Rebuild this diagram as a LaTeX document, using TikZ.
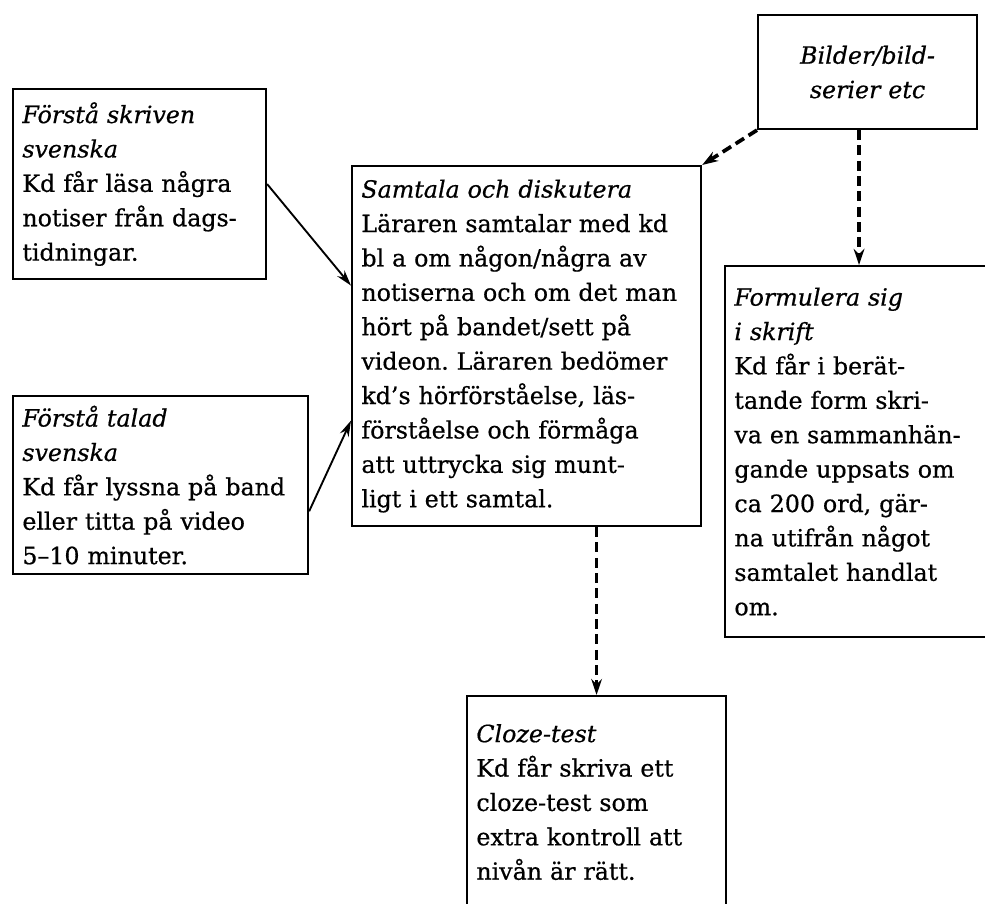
\documentclass[tikz,border=0pt]{standalone}
\usepackage{fontspec}
\setmainfont{DejaVu Serif}[FakeBold=0.6]
\usetikzlibrary{arrows.meta}
\tikzset{
  box/.style    = {rectangle, draw, line width=1.6pt, anchor=north west,
                   align=left, inner xsep=7pt, inner ysep=0pt,
                   font=\fontsize{17.8}{25.8}\selectfont\frenchspacing},
  arrow/.style  = {-{Stealth[length=12pt, width=7pt]}, line width=1.4pt},
  darrow/.style = {-{Stealth[length=12pt, width=8pt]}, line width=2.8pt,
                   dash pattern=on 7.5pt off 4pt},
}
\begin{document}
\begin{tikzpicture}[x=0.75pt, y=-0.75pt]
  \useasboundingbox (0,0) rectangle (985,903);
  \node[box, minimum width=189.75pt, minimum height=142.5pt, text width=175.75pt]
        (skriv) at (12,88)
        {\textit{Förstå skriven}\\ \textit{svenska}\\ Kd får läsa några\\
         notiser från dags-\\ tidningar.};
  \node[box, minimum width=221.25pt, minimum height=133.5pt, text width=207.25pt]
        (talad) at (12,395)
        {\textit{Förstå talad}\\ \textit{svenska}\\ Kd får lyssna på band\\
         eller titta på video\\ 5–10 minuter.};
  \node[box, minimum width=261.75pt, minimum height=270pt, text width=247.75pt]
        (samtal) at (351,165)
        {\textit{Samtala och diskutera}\\ Läraren samtalar med kd\\
         bl a om någon/några av\\ notiserna och om det man\\
         hört på bandet/sett på\\ videon. Läraren bedömer\\
         kd’s hörförståelse, läs-\\ förståelse och förmåga\\
         att uttrycka sig munt-\\ ligt i ett samtal.};
  \node[box, align=center, minimum width=164.25pt, minimum height=85.5pt, text width=150.25pt]
        (bilder) at (757,14)
        {\textit{Bilder/bild-}\\ \textit{serier etc}};
  \node[box, minimum width=206.25pt, minimum height=278.25pt, text width=192.25pt]
        (formul) at (724,265)
        {\textit{Formulera sig}\\ \textit{i skrift}\\ Kd får i berät-\\
         tande form skri-\\ va en sammanhän-\\ gande uppsats om\\
         ca 200 ord, gär-\\ na utifrån något\\ samtalet handlat\\ om.};
  \node[box, minimum width=194.25pt, minimum height=159pt, text width=180.25pt]
        (cloze) at (466,695)
        {\textit{Cloze-test}\\ Kd får skriva ett\\ cloze-test som\\
         extra kontroll att\\ nivån är rätt.};
  \draw[arrow] (skriv.east) -- (samtal.161.6);
  \draw[arrow] (talad.-10) -- (samtal.203.8);
  \draw[darrow] (bilder.south west) -- (samtal.north east);
  \draw[darrow] ([xshift=-6.4pt]bilder.south) -- ([xshift=-6.4pt]bilder.south |- formul.north);
  \draw[darrow] (cloze.north |- samtal.south) -- (cloze.north);
\end{tikzpicture}
\end{document}
